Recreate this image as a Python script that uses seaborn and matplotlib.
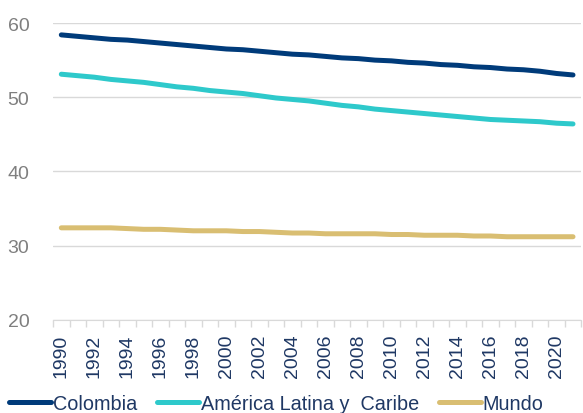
import matplotlib
matplotlib.use("Agg")
import matplotlib.pyplot as plt
import seaborn as sns
import pandas as pd
import numpy as np

years = list(range(1990, 2022))
colombia = [58.4, 58.2, 58.0, 57.8, 57.7, 57.5, 57.3, 57.1, 56.9, 56.7, 56.5, 56.4,
            56.2, 56.0, 55.8, 55.7, 55.5, 55.3, 55.2, 55.0, 54.9, 54.7, 54.6, 54.4,
            54.3, 54.1, 54.0, 53.8, 53.7, 53.5, 53.2, 53.0]
america_latina = [53.1, 52.9, 52.7, 52.4, 52.2, 52.0, 51.7, 51.4, 51.2, 50.9, 50.7, 50.5,
                  50.2, 49.9, 49.7, 49.5, 49.2, 48.9, 48.7, 48.4, 48.2, 48.0, 47.8, 47.6,
                  47.4, 47.2, 47.0, 46.9, 46.8, 46.7, 46.5, 46.4]
mundo = [32.4, 32.4, 32.4, 32.4, 32.3, 32.2, 32.2, 32.1, 32.0, 32.0, 32.0, 31.9,
         31.9, 31.8, 31.7, 31.7, 31.6, 31.6, 31.6, 31.6, 31.5, 31.5, 31.4, 31.4,
         31.4, 31.3, 31.3, 31.2, 31.2, 31.2, 31.2, 31.2]
series_names = ["Colombia", "América Latina y  Caribe", "Mundo"]
colors = ["#003B7A", "#2EC9CB", "#D9BE72"]
y_ticks = [20, 30, 40, 50, 60]

df = pd.DataFrame({
    "idx": list(range(len(years))) * 3,
    "valor": colombia + america_latina + mundo,
    "serie": np.repeat(series_names, len(years)),
})

sns.set_style("white")
plt.rcParams["font.family"] = ["Liberation Sans", "DejaVu Sans"]
plt.rcParams["lines.solid_capstyle"] = "round"

fig = plt.figure(figsize=(5.83, 4.14), dpi=100)
ax = fig.add_axes([0.091, 0.225, 0.906, 0.717])

sns.lineplot(data=df, x="idx", y="valor", hue="serie", palette=colors,
             hue_order=series_names, linewidth=3.6, ax=ax, legend=True)

ax.set_xlim(-0.5, len(years) - 0.5)
ax.set_ylim(20, 60)
ax.set_yticks(y_ticks)
ax.yaxis.grid(True, color="#d9d9d9", linewidth=1)
ax.tick_params(axis="y", labelsize=14, labelcolor="#7f7f7f", length=0, pad=17)

# etiquetas cada dos años, marcas en los bordes de cada categoría
ax.set_xticks(range(0, len(years), 2))
ax.set_xticklabels([str(y) for y in years[::2]], rotation=90)
ax.set_xticks(np.arange(-0.5, len(years), 1), minor=True)
ax.tick_params(axis="x", which="major", length=0, labelsize=14,
               labelcolor="#1F3864", pad=10)
ax.tick_params(axis="x", which="minor", length=5, color="#d9d9d9", width=1,
               direction="out", bottom=True)

for s in ["top", "right", "left"]:
    ax.spines[s].set_visible(False)
ax.spines["bottom"].set_color("#d9d9d9")
ax.set_xlabel("")
ax.set_ylabel("")

handles, labels = ax.get_legend_handles_labels()
ax.get_legend().remove()
for h in handles:
    h.set_solid_capstyle("round")
fig.legend(handles, labels, loc="center", bbox_to_anchor=(0.474, 0.022),
           ncol=3, frameon=False, fontsize=14.3, handlelength=2.1,
           handletextpad=0.1, columnspacing=1.0, labelcolor="#1F3864",
           borderpad=0, borderaxespad=0)

fig.savefig("out.png", dpi=100)
